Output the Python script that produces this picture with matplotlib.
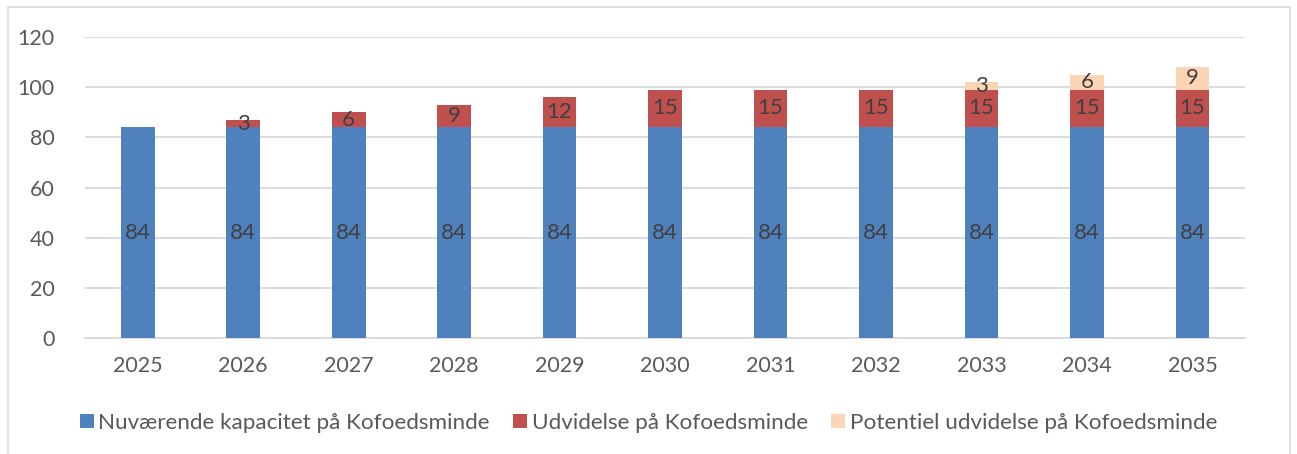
import matplotlib.pyplot as plt
from matplotlib.patches import Rectangle

years = ["2025", "2026", "2027", "2028", "2029", "2030", "2031", "2032", "2033", "2034", "2035"]
nuvaerende = [84, 84, 84, 84, 84, 84, 84, 84, 84, 84, 84]
udvidelse = [0, 3, 6, 9, 12, 15, 15, 15, 15, 15, 15]
potentiel = [0, 0, 0, 0, 0, 0, 0, 0, 3, 6, 9]

labels = ["Nuværende kapacitet på Kofoedsminde",
          "Udvidelse på Kofoedsminde",
          "Potentiel udvidelse på Kofoedsminde"]
colors = ["#4f81bd", "#c0504d", "#fcd5b5"]

plt.rcParams['font.family'] = ['Lato', 'DejaVu Sans']

fig = plt.figure(figsize=(12.97, 4.54), dpi=100)
ax = fig.add_axes([0.0655, 0.2555, 0.8945, 0.663])

# outer chart border
fig.patches.append(Rectangle((8 / 1297, -0.05), 1282 / 1297, 1.05 - 7 / 454,
                             transform=fig.transFigure, fill=False,
                             edgecolor="#d9d9d9", linewidth=1.2))

x = list(range(len(years)))
w = 0.32
b1 = ax.bar(x, nuvaerende, w, color=colors[0], label=labels[0], zorder=3)
b2 = ax.bar(x, udvidelse, w, bottom=nuvaerende, color=colors[1], label=labels[1], zorder=3)
bottom3 = [a + b for a, b in zip(nuvaerende, udvidelse)]
b3 = ax.bar(x, potentiel, w, bottom=bottom3, color=colors[2], label=labels[2], zorder=3)

txt = dict(ha="center", va="center", fontsize=16, color="#404040", zorder=4)
for i in x:
    ax.text(i, nuvaerende[i] / 2, str(nuvaerende[i]), **txt)
    if udvidelse[i]:
        ax.text(i, nuvaerende[i] + udvidelse[i] / 2, str(udvidelse[i]), **txt)
    if potentiel[i]:
        ax.text(i, bottom3[i] + potentiel[i] / 2, str(potentiel[i]), **txt)

ax.set_xlim(-0.5, 10.5)
ax.set_ylim(0, 120)
ax.set_yticks(range(0, 121, 20))
ax.set_xticks(x)
ax.set_xticklabels(years)
ax.tick_params(length=0, labelsize=15.5, labelcolor="#595959")
ax.tick_params(axis="x", pad=13)
ax.tick_params(axis="y", pad=22)
ax.grid(axis="y", color="#d9d9d9", linewidth=1.3, zorder=0)
for s in ["left", "right", "top"]:
    ax.spines[s].set_visible(False)
ax.spines["bottom"].set_color("#d9d9d9")
ax.spines["bottom"].set_linewidth(1.3)

fig.legend(handles=[b1, b2, b3], loc="center", bbox_to_anchor=(0.5, 0.068),
           ncol=3, frameon=False, fontsize=16.2, labelcolor="#595959",
           handlelength=0.62, handleheight=0.62, handletextpad=0.2, columnspacing=1.05)

fig.savefig("out.png", dpi=100)
